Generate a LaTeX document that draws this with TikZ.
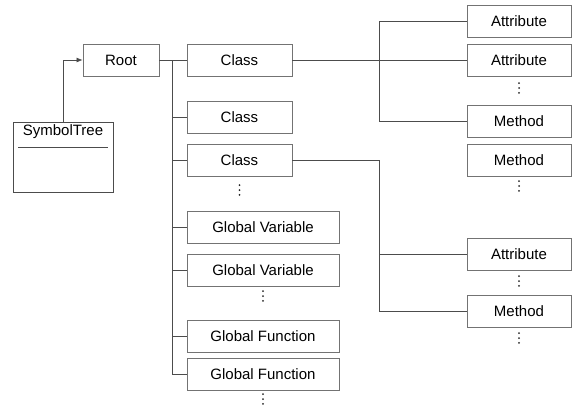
\documentclass[tikz,border=0pt]{standalone}
\usepackage{fontspec}
\setmainfont{Liberation Sans}
\usetikzlibrary{arrows.meta,calc}
\begin{document}
\begin{tikzpicture}[x=1pt,y=-1pt,
  box/.style={draw=black!55,fill=white,line width=0.8pt,minimum height=32pt,inner sep=0pt,font=\fontsize{15}{17}\selectfont},
  classbox/.style={box,minimum width=105pt},
  globalbox/.style={box,minimum width=152pt},
  memberbox/.style={box,minimum width=104pt},
  link/.style={draw=black!70,line width=0.7pt},
  more/.style={fill=black!85}]
\useasboundingbox (0,0) rectangle (579,410);

% symbol table box with its title and divider
\node[draw=black!70,line width=0.8pt,minimum width=100pt,minimum height=70pt,inner sep=0pt] (st) at (63,157) {};
\node[font=\fontsize{15}{17}\selectfont] (sttitle) at (63,132) {SymbolTree};
\draw[black!70,line width=0.7pt] (18,147) -- (108,147);

% tree nodes
\node[box,minimum width=76pt] (root) at (121,60) {Root};
\node[classbox] (c1) at (239.5,60) {Class};
\node[classbox] (c2) at (239.5,117.5) {Class};
\node[classbox] (c3) at (239.5,160.5) {Class};
\coordinate (d1) at (239.5,190);
\node[globalbox] (gv1) at (263,227.5) {Global Variable};
\node[globalbox] (gv2) at (263,270) {Global Variable};
\coordinate (d2) at (263,296);
\node[globalbox] (gf1) at (263,336.5) {Global Function};
\node[globalbox] (gf2) at (263,374) {Global Function};
\coordinate (d3) at (263,399);

% members of the first class
\node[memberbox] (a1) at (519,21.5) {Attribute};
\node[memberbox] (a2) at (519,60) {Attribute};
\coordinate (d4) at (519,88);
\node[memberbox] (m1) at (519,121.5) {Method};
\node[memberbox] (m2) at (519,160) {Method};
\coordinate (d5) at (519,186);

% members of the third class
\node[memberbox] (a3) at (519,254.5) {Attribute};
\coordinate (d6) at (519,281);
\node[memberbox] (m3) at (519,311.5) {Method};
\coordinate (d7) at (519,338);

% vertical ellipses marking further entries
\foreach \d in {d1,d2,d3,d4,d5,d6,d7}
  \foreach \k in {-4.8,0,4.8}
    \fill[more] ($(\d)+(0,\k)$) circle (1pt);

% trunk and branch columns
\coordinate (tx) at (172,60);
\coordinate (bx) at (379,0);

% connectors
\draw[link,-{Latex[length=6pt,width=5pt]}] (st.north) |- (root.west);
\draw[link] (root.east) -- (c1.west);
\draw[link] (tx) |- (gf2.west);
\foreach \n in {c2,c3,gv1,gv2,gf1}
  \draw[link] (tx |- \n.west) -- (\n.west);

\draw[link] (c1.east) -- (a2.west);
\draw[link] (a1.west) -| (bx |- m1.west) -- (m1.west);

\draw[link] (c3.east) -| (bx |- m3.west) -- (m3.west);
\draw[link] (bx |- a3.west) -- (a3.west);
\end{tikzpicture}
\end{document}
